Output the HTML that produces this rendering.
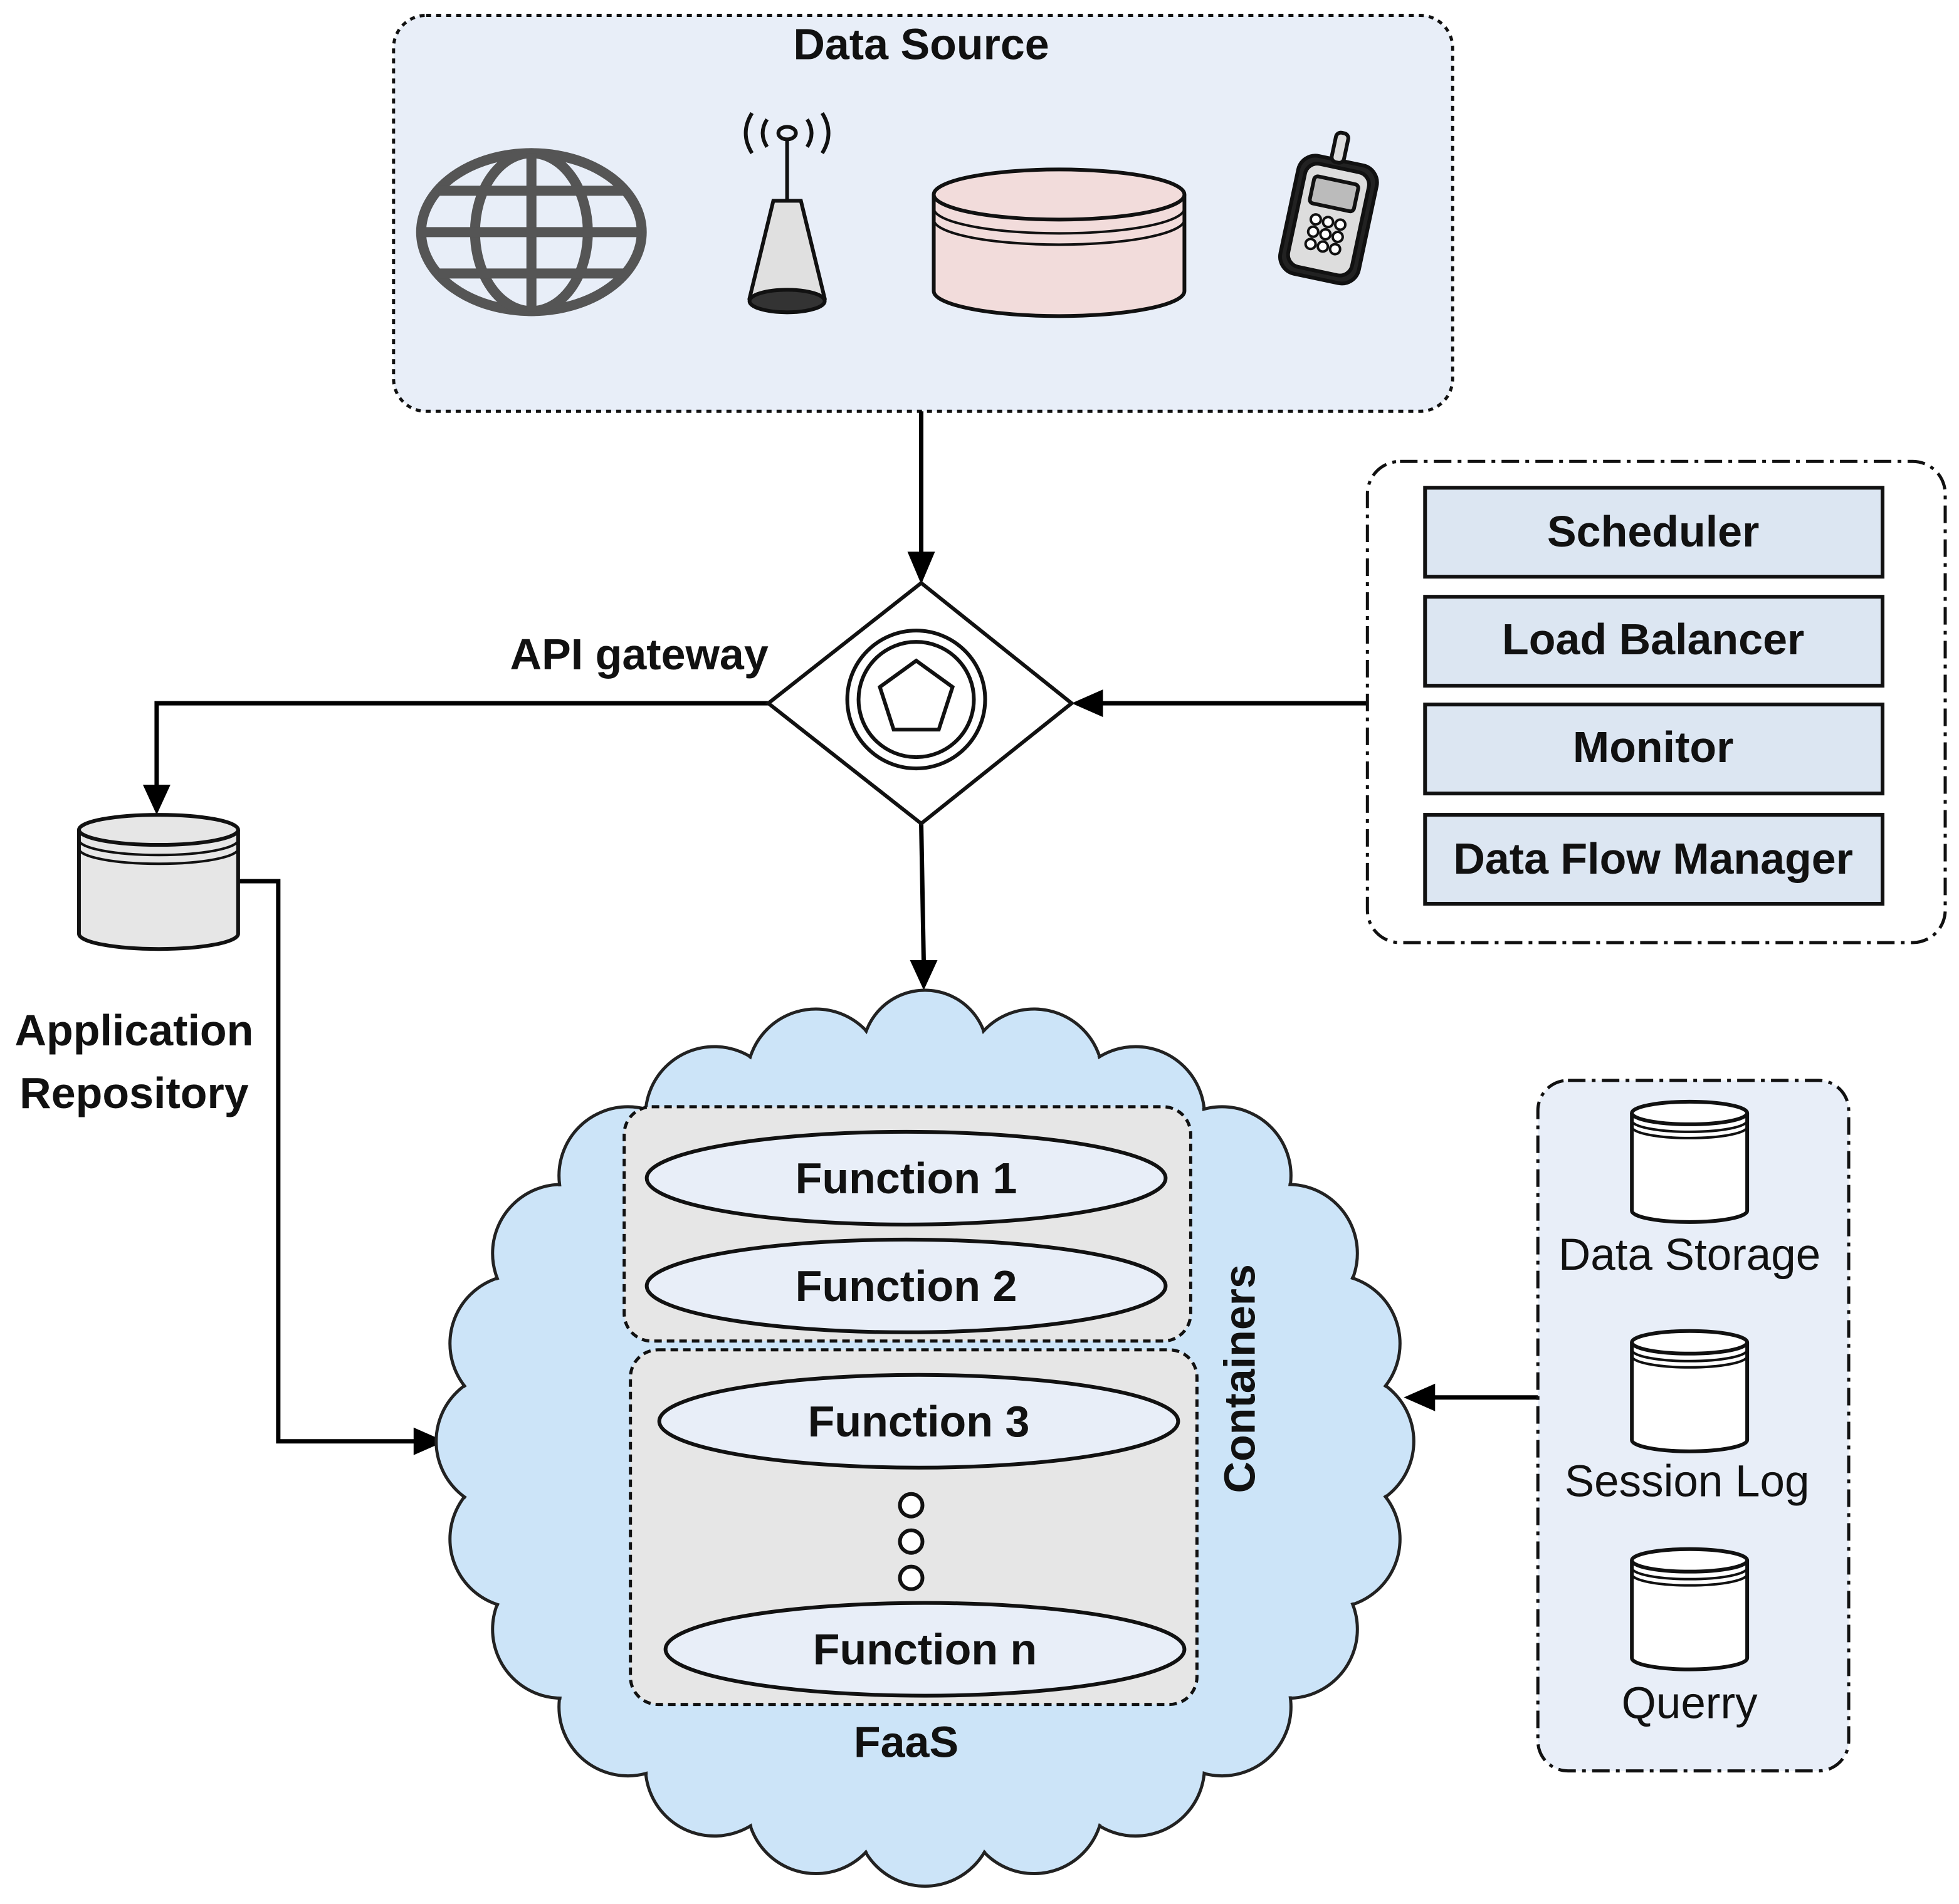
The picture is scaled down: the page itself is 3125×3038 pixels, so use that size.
<!DOCTYPE html>
<html><head><meta charset="utf-8"><style>
html,body{margin:0;padding:0;background:#fff}
svg{display:block}
text{font-family:"Liberation Sans",sans-serif}
.b{font-weight:bold;font-size:35px;fill:#111}
.n{font-size:35.5px;fill:#111}
</style></head><body>
<svg width="3125" height="3038" viewBox="0 0 1563 1519" xmlns="http://www.w3.org/2000/svg">
<defs>
<g id="cyl">
<path d="M-46,0 L-46,78 A46,9 0 0 0 46,78 L46,0" fill="#fff" stroke="#111" stroke-width="3"/>
<ellipse cx="0" cy="0" rx="46" ry="9" fill="#fff" stroke="#111" stroke-width="3"/>
<path d="M-46,6 A46,9 0 0 0 46,6 M-46,11 A46,9 0 0 0 46,11" fill="none" stroke="#111" stroke-width="2"/>
</g>
</defs>

<rect x="314" y="12" width="845" height="316" rx="26" fill="#e8eef8" stroke="#111" stroke-width="2.5" stroke-dasharray="4,4"/>
<text x="735" y="47" text-anchor="middle" class="b">Data Source</text>
<g fill="none" stroke="#555" stroke-width="8">
<ellipse cx="424" cy="185" rx="88" ry="63"/>
<ellipse cx="424" cy="185" rx="45" ry="63"/>
<line x1="424" y1="122" x2="424" y2="248"/>
<line x1="336" y1="185" x2="512" y2="185"/>
<line x1="350" y1="152" x2="498" y2="152"/>
<line x1="350" y1="218" x2="498" y2="218"/>
</g>
<g stroke="#111" stroke-width="3" fill="none">
<path d="M617,160 L639,160 L658,238 Q628,256 598,238 Z" fill="#e0e0e0"/>
<ellipse cx="628" cy="240" rx="30" ry="9" fill="#333"/>
<line x1="628" y1="112" x2="628" y2="160"/>
<ellipse cx="628" cy="106" rx="7" ry="5"/>
<path d="M612,95 Q605,106 612,117 M644,95 Q651,106 644,117 M600,90 Q590,106 600,122 M656,90 Q666,106 656,122"/>
</g>
<g stroke="#111" stroke-width="3">
<path d="M745,155 L745,232 A100,20 0 0 0 945,232 L945,155" fill="#f2dcdb"/>
<ellipse cx="845" cy="155" rx="100" ry="20" fill="#f2dcdb"/>
<path d="M745,166 A100,20 0 0 0 945,166 M745,175 A100,20 0 0 0 945,175" fill="none" stroke-width="2"/>
</g>
<g transform="translate(1060,175) rotate(12)" stroke="#111" stroke-width="3">
<rect x="-32" y="-48" width="64" height="96" rx="14" fill="#222"/>
<rect x="-26" y="-42" width="52" height="84" rx="10" fill="#ddd"/>
<rect x="-18" y="-32" width="36" height="22" rx="3" fill="#bbb"/>
<rect x="-8" y="-70" width="10" height="24" rx="4" fill="#ddd"/>
<g fill="#fff" stroke-width="2"><circle cx="-10" cy="2" r="4"/><circle cx="0" cy="2" r="4"/><circle cx="10" cy="2" r="4"/><circle cx="-10" cy="12" r="4"/><circle cx="0" cy="12" r="4"/><circle cx="10" cy="12" r="4"/><circle cx="-10" cy="22" r="4"/><circle cx="0" cy="22" r="4"/><circle cx="10" cy="22" r="4"/></g>
</g>

<g stroke="#000" stroke-width="3.5" fill="none">
<line x1="735" y1="328" x2="735" y2="445"/>
<polyline points="613,561 125,561 125,630"/>
<polyline points="190,703 222,703 222,1150 335,1150"/>
<line x1="1091" y1="561" x2="878" y2="561"/>
<line x1="735" y1="657" x2="737" y2="768"/>
<line x1="1227" y1="1115" x2="1142" y2="1115"/>
</g>
<g fill="#000">
<polygon points="724,440 746,440 735,466"/>
<polygon points="114,626 136,626 125,650"/>
<polygon points="330,1139 330,1161 355,1150"/>
<polygon points="880,550 880,572 855,561"/>
<polygon points="726,766 748,766 737,790"/>
<polygon points="1145,1104 1145,1126 1120,1115"/>
</g>

<polygon points="735,465 855,561 735,657 613,561" fill="#fff" stroke="#111" stroke-width="3"/>
<circle cx="731" cy="558" r="55" fill="#fff" stroke="#111" stroke-width="3"/>
<circle cx="731" cy="558" r="46" fill="#fff" stroke="#111" stroke-width="3"/>
<polygon points="731,527 760,548 749,582 713,582 702,548" fill="#fff" stroke="#111" stroke-width="3"/>
<text x="510" y="534" text-anchor="middle" class="b">API gateway</text>

<g stroke="#111" stroke-width="3">
<path d="M63,662 L63,745 A63,12 0 0 0 190,745 L190,662" fill="#e6e6e6"/>
<ellipse cx="126.5" cy="662" rx="63.5" ry="12" fill="#e6e6e6"/>
<path d="M63,670 A63,12 0 0 0 190,670 M63,677 A63,12 0 0 0 190,677" fill="none" stroke-width="2"/>
</g>
<text x="107" y="834" text-anchor="middle" class="b">Application</text>
<text x="107" y="884" text-anchor="middle" class="b">Repository</text>

<rect x="1091" y="368" width="461" height="384" rx="26" fill="#fff" stroke="#111" stroke-width="2.5" stroke-dasharray="14,5,3,5"/>
<g fill="#dce6f2" stroke="#111" stroke-width="3">
<rect x="1137" y="389" width="365" height="71"/>
<rect x="1137" y="476" width="365" height="71"/>
<rect x="1137" y="562" width="365" height="71"/>
<rect x="1137" y="650" width="365" height="71"/>
</g>
<text x="1319" y="436" text-anchor="middle" class="b">Scheduler</text>
<text x="1319" y="522" text-anchor="middle" class="b">Load Balancer</text>
<text x="1319" y="608" text-anchor="middle" class="b">Monitor</text>
<text x="1319" y="697" text-anchor="middle" class="b">Data Flow Manager</text>

<g>
<g fill="#cce4f8" stroke="#222" stroke-width="2.5">
<circle cx="1073" cy="1150" r="55"/><circle cx="1062" cy="1228" r="55"/><circle cx="1028" cy="1300" r="55"/><circle cx="975" cy="1362" r="55"/><circle cx="906" cy="1410" r="55"/><circle cx="825" cy="1440" r="55"/><circle cx="738" cy="1450" r="55"/><circle cx="651" cy="1440" r="55"/><circle cx="570" cy="1410" r="55"/><circle cx="501" cy="1362" r="55"/><circle cx="448" cy="1300" r="55"/><circle cx="414" cy="1228" r="55"/><circle cx="403" cy="1150" r="55"/><circle cx="414" cy="1072" r="55"/><circle cx="448" cy="1000" r="55"/><circle cx="501" cy="938" r="55"/><circle cx="570" cy="890" r="55"/><circle cx="651" cy="860" r="55"/><circle cx="738" cy="840" r="50"/><circle cx="825" cy="860" r="55"/><circle cx="906" cy="890" r="55"/><circle cx="975" cy="938" r="55"/><circle cx="1028" cy="1000" r="55"/><circle cx="1062" cy="1072" r="55"/>
</g>
<g fill="#cce4f8">
<circle cx="1073" cy="1150" r="53.5"/><circle cx="1062" cy="1228" r="53.5"/><circle cx="1028" cy="1300" r="53.5"/><circle cx="975" cy="1362" r="53.5"/><circle cx="906" cy="1410" r="53.5"/><circle cx="825" cy="1440" r="53.5"/><circle cx="738" cy="1450" r="53.5"/><circle cx="651" cy="1440" r="53.5"/><circle cx="570" cy="1410" r="53.5"/><circle cx="501" cy="1362" r="53.5"/><circle cx="448" cy="1300" r="53.5"/><circle cx="414" cy="1228" r="53.5"/><circle cx="403" cy="1150" r="53.5"/><circle cx="414" cy="1072" r="53.5"/><circle cx="448" cy="1000" r="53.5"/><circle cx="501" cy="938" r="53.5"/><circle cx="570" cy="890" r="53.5"/><circle cx="651" cy="860" r="53.5"/><circle cx="738" cy="840" r="48.5"/><circle cx="825" cy="860" r="53.5"/><circle cx="906" cy="890" r="53.5"/><circle cx="975" cy="938" r="53.5"/><circle cx="1028" cy="1000" r="53.5"/><circle cx="1062" cy="1072" r="53.5"/>
<ellipse cx="738" cy="1150" rx="340" ry="305"/>
</g>
</g>

<rect x="498" y="883" width="452" height="187" rx="22" fill="#e6e6e6" stroke="#111" stroke-width="2.5" stroke-dasharray="6,4"/>
<rect x="503" y="1077" width="452" height="283" rx="22" fill="#e6e6e6" stroke="#111" stroke-width="2.5" stroke-dasharray="6,4"/>
<g fill="#e8eef8" stroke="#111" stroke-width="3">
<ellipse cx="723" cy="940" rx="207" ry="37"/>
<ellipse cx="723" cy="1026" rx="207" ry="37"/>
<ellipse cx="733" cy="1134" rx="207" ry="37"/>
<ellipse cx="738" cy="1316" rx="207" ry="37"/>
<circle cx="727" cy="1201" r="9" fill="#fff"/><circle cx="727" cy="1230" r="9" fill="#fff"/><circle cx="727" cy="1259" r="9" fill="#fff"/>
</g>
<text x="723" y="952" text-anchor="middle" class="b">Function 1</text>
<text x="723" y="1038" text-anchor="middle" class="b">Function 2</text>
<text x="733" y="1146" text-anchor="middle" class="b">Function 3</text>
<text x="738" y="1328" text-anchor="middle" class="b">Function n</text>
<text transform="translate(1001,1100) rotate(-90)" text-anchor="middle" class="b">Containers</text>
<text x="723" y="1402" text-anchor="middle" class="b">FaaS</text>

<rect x="1227" y="862" width="248" height="551" rx="24" fill="#e8eef8" stroke="#111" stroke-width="2.5" stroke-dasharray="14,5,3,5"/>
<use href="#cyl" x="1348" y="888"/>
<use href="#cyl" x="1348" y="1071"/>
<use href="#cyl" x="1348" y="1245"/>
<text x="1348" y="1013" text-anchor="middle" class="n">Data Storage</text>
<text x="1346" y="1194" text-anchor="middle" class="n">Session Log</text>
<text x="1348" y="1371" text-anchor="middle" class="n">Querry</text>
</svg>
</body></html>
